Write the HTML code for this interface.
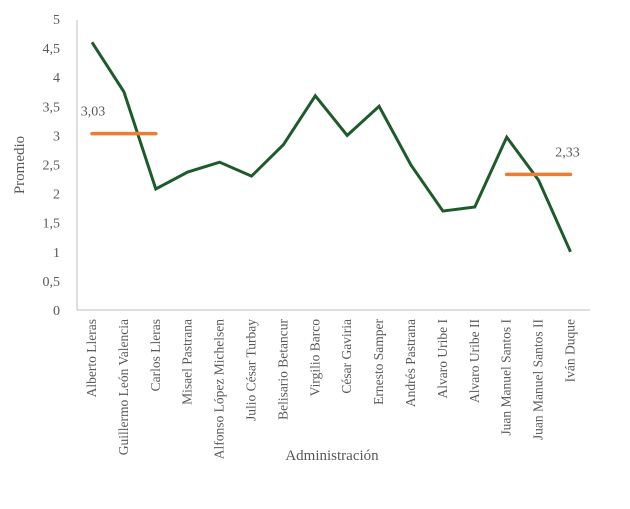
<!DOCTYPE html>
<html><head><meta charset="utf-8"><style>
body{margin:0;background:#fff}
svg text{font-family:"Liberation Serif",serif;fill:#595959}
</style></head><body>
<svg width="630" height="504" viewBox="0 0 630 504">
<g id="yticks"></g><g id="xlabels"></g>
<line x1="77" y1="20" x2="77" y2="310" stroke="#bfbfbf" stroke-width="1"/>
<line x1="77" y1="310" x2="590" y2="310" stroke="#bfbfbf" stroke-width="1"/>
<g id="series"></g>
<text x="24" y="165" font-size="15" text-anchor="middle" transform="rotate(-90 24 165)">Promedio</text>
<text x="332" y="460" font-size="15" text-anchor="middle">Administración</text>
</svg>
<script>
const categories=["Alberto Lleras","Guillermo León Valencia","Carlos Lleras","Misael Pastrana","Alfonso López Michelsen","Julio César Turbay","Belisario Betancur","Virgilio Barco","César Gaviria","Ernesto Samper","Andrés Pastrana","Alvaro Uribe I","Alvaro Uribe II","Juan Manuel Santos I","Juan Manuel Santos II","Iván Duque"];
const values=[4.6,3.75,2.08,2.37,2.54,2.3,2.84,3.68,3.0,3.5,2.49,1.7,1.77,2.97,2.23,1.0];
const avgStartIdx=[0,13];
const avgEndIdx=[2,15];
const avgValues=[3.03,2.33];
const avgLabels=["3,03","2,33"];
const yTicks=[0,0.5,1,1.5,2,2.5,3,3.5,4,4.5,5];
const yTickLabels=["0","0,5","1","1,5","2","2,5","3","3,5","4","4,5","5"];
const NS="http://www.w3.org/2000/svg";
const xs=i=>92+i*31.9;
const ys=v=>310-v*58.2;
function mk(t,a,p){const e=document.createElementNS(NS,t);for(const k in a)e.setAttribute(k,a[k]);p.appendChild(e);return e;}
const yg=document.getElementById('yticks');
yTicks.forEach((v,i)=>{const t=mk('text',{x:60,y:ys(v)+5,'font-size':14,'text-anchor':'end'},yg);t.textContent=yTickLabels[i];

});
const xg=document.getElementById('xlabels');
categories.forEach((c,i)=>{const x=xs(i)+4,y=319;const t=mk('text',{x:x,y:y,'font-size':13.5,'text-anchor':'end',transform:`rotate(-90 ${x} ${y})`},xg);t.textContent=c;

});
const sg=document.getElementById('series');
const pl=mk('polyline',{points:values.map((v,i)=>xs(i)+','+ys(v)).join(' '),fill:'none',stroke:'#1e5b2a','stroke-width':3,'stroke-linejoin':'miter'},sg);


avgValues.forEach((v,k)=>{const l=mk('line',{x1:xs(avgStartIdx[k]),x2:xs(avgEndIdx[k]),y1:ys(v),y2:ys(v),stroke:'#ed7d31','stroke-width':3.5,'stroke-linecap':'round'},sg);


const lx=k===0?xs(avgStartIdx[k])+1:xs(avgEndIdx[k])-3;
const t=mk('text',{x:lx,y:ys(v)-18,'font-size':14,'text-anchor':k===0?'middle':'middle'},sg);t.textContent=avgLabels[k];

});
</script>
</body></html>
